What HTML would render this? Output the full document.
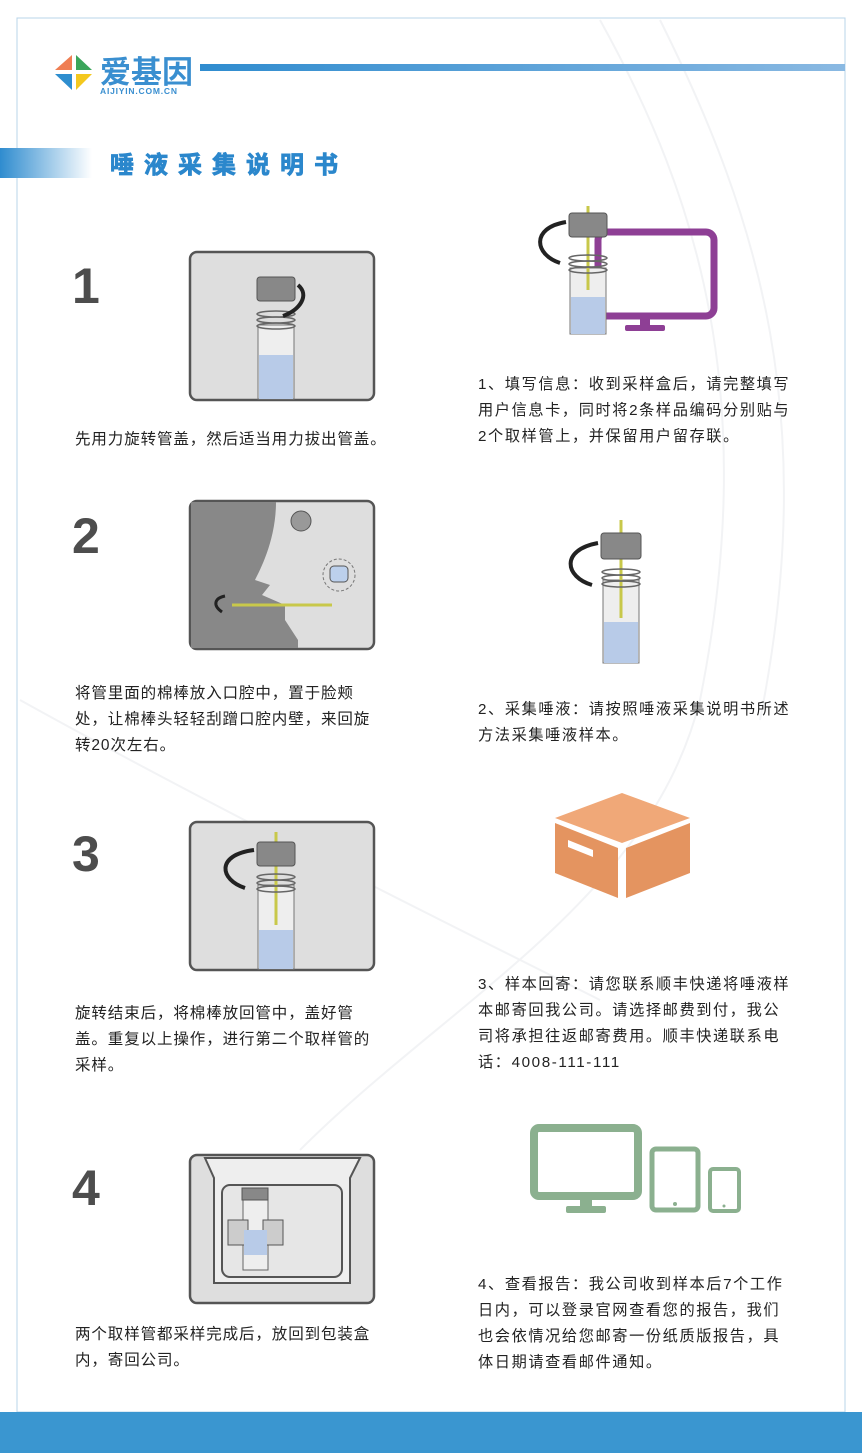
<!DOCTYPE html>
<html><head><meta charset="utf-8"><style>
html,body{margin:0;padding:0;background:#fff}
svg{display:block}
text{font-family:"Liberation Sans","Noto Sans CJK SC",sans-serif}
</style></head><body>
<svg width="862" height="1453" viewBox="0 0 862 1453" xmlns="http://www.w3.org/2000/svg">
<defs>
<linearGradient id="lg" x1="0" x2="1"><stop offset="0" stop-color="#2f8ccf"/><stop offset="1" stop-color="#8ab9e2"/></linearGradient>
<linearGradient id="tg" x1="0" x2="1"><stop offset="0" stop-color="#2f8ccf"/><stop offset="1" stop-color="#ffffff"/></linearGradient>
</defs>
<rect x="17" y="18" width="828" height="1394" fill="none" stroke="#b8d4ea" stroke-width="1"/>
<g fill="none" stroke="#f2f3f5" stroke-width="2">
<path d="M600 20 C700 200 760 400 700 700 C650 900 450 1000 300 1150"/>
<path d="M660 20 C760 220 820 420 760 720"/>
<path d="M20 700 C200 800 400 900 600 1000"/>
</g>
<rect x="0" y="1412" width="862" height="41" fill="#3a96d0"/>
<polygon points="55,70 72,70 72,55" fill="#ef7e53"/>
<polygon points="76,55 76,70 92,70" fill="#3aa55a"/>
<polygon points="55,74 72,74 72,90" fill="#2e8ecf"/>
<polygon points="76,74 92,74 76,90" fill="#f4c81e"/>
<text x="100" y="83" font-size="31" font-weight="bold" fill="#3a8fd0">爱基因</text>
<text x="100" y="94" font-size="8.5" font-weight="bold" fill="#3a8fd0" letter-spacing="0.8">AIJIYIN.COM.CN</text>
<rect x="200" y="64" width="645" height="7" fill="url(#lg)"/>
<rect x="0" y="148" width="92" height="30" fill="url(#tg)"/>
<text x="110" y="173" font-size="24" font-weight="bold" fill="#2b87cc" letter-spacing="10" stroke="#2b87cc" stroke-width="0.8">唾液采集说明书</text>
<g font-size="50" font-weight="bold" fill="#4d4d4d">
<text x="72" y="303">1</text><text x="72" y="553">2</text><text x="72" y="871">3</text><text x="72" y="1205">4</text>
</g>
<g fill="#dedede" stroke="#555" stroke-width="2.5">
<rect x="190" y="252" width="184" height="148" rx="7"/>
<rect x="190" y="501" width="184" height="148" rx="7"/>
<rect x="190" y="822" width="184" height="148" rx="7"/>
<rect x="190" y="1155" width="184" height="148" rx="7"/>
</g>
<rect x="258" y="325" width="36" height="74" fill="#eee" stroke="#777"/>
<rect x="259" y="355" width="34" height="44" fill="#b8cbe8"/>
<g fill="none" stroke="#666" stroke-width="1.5"><ellipse cx="276" cy="314" rx="19" ry="3"/><ellipse cx="276" cy="320" rx="19" ry="3"/><ellipse cx="276" cy="326" rx="19" ry="3"/></g>
<rect x="257" y="277" width="38" height="24" rx="3" fill="#888" stroke="#555"/>
<path d="M298 285 C310 295 300 310 283 316" fill="none" stroke="#222" stroke-width="4"/>
<path d="M191 502 H276 C276 540 260 570 255 580 L270 585 L262 595 L285 605 L285 620 L298 640 L298 648 H191 Z" fill="#888"/>
<circle cx="301" cy="521" r="10" fill="#999" stroke="#555"/>
<circle cx="339" cy="575" r="16" fill="none" stroke="#777" stroke-dasharray="3,2"/>
<rect x="330" y="566" width="18" height="16" rx="4" fill="#bcd0ec" stroke="#555"/>
<line x1="232" y1="605" x2="332" y2="605" stroke="#c8c84a" stroke-width="3"/>
<path d="M222 612 C212 605 215 598 225 596" fill="none" stroke="#222" stroke-width="3"/>
<rect x="258" y="885" width="36" height="84" fill="#eee" stroke="#777"/>
<rect x="259" y="930" width="34" height="39" fill="#b8cbe8"/>
<line x1="276" y1="832" x2="276" y2="925" stroke="#c8c84a" stroke-width="3"/>
<g fill="none" stroke="#666" stroke-width="1.5"><ellipse cx="276" cy="877" rx="19" ry="3"/><ellipse cx="276" cy="883" rx="19" ry="3"/><ellipse cx="276" cy="889" rx="19" ry="3"/></g>
<rect x="257" y="842" width="38" height="24" rx="3" fill="#888" stroke="#555"/>
<path d="M254 850 C215 855 220 880 245 888" fill="none" stroke="#222" stroke-width="4"/>
<path d="M205 1158 H360 L350 1178 V1283 H214 V1178 Z" fill="#eee" stroke="#555" stroke-width="2"/>
<rect x="222" y="1185" width="120" height="92" rx="8" fill="#e6e6e6" stroke="#555" stroke-width="2"/>
<rect x="243" y="1195" width="25" height="75" fill="#eee" stroke="#666"/>
<rect x="228" y="1220" width="20" height="25" fill="#ccc" stroke="#555"/>
<rect x="263" y="1220" width="20" height="25" fill="#ccc" stroke="#555"/>
<rect x="244" y="1230" width="23" height="25" fill="#b8cbe8"/>
<rect x="242" y="1188" width="26" height="12" fill="#888" stroke="#555"/>
<g font-size="15.5" fill="#222" letter-spacing="0.9">
<text x="75" y="444">先用力旋转管盖，然后适当用力拔出管盖。</text>
<text x="75" y="698">将管里面的棉棒放入口腔中，置于脸颊</text>
<text x="75" y="724">处，让棉棒头轻轻刮蹭口腔内壁，来回旋</text>
<text x="75" y="750">转20次左右。</text>
<text x="75" y="1018">旋转结束后，将棉棒放回管中，盖好管</text>
<text x="75" y="1044">盖。重复以上操作，进行第二个取样管的</text>
<text x="75" y="1070">采样。</text>
<text x="75" y="1339">两个取样管都采样完成后，放回到包装盒</text>
<text x="75" y="1365">内，寄回公司。</text>
</g>
<rect x="598" y="232" width="116" height="84" rx="8" fill="none" stroke="#8e3f95" stroke-width="7"/>
<rect x="640" y="316" width="10" height="10" fill="#8e3f95"/>
<rect x="625" y="325" width="40" height="6" rx="2" fill="#8e3f95"/>
<rect x="570" y="268" width="36" height="66" fill="#eee" stroke="#777"/>
<rect x="571" y="297" width="34" height="37" fill="#b8cbe8"/>
<line x1="588" y1="206" x2="588" y2="290" stroke="#c8c84a" stroke-width="3"/>
<g fill="none" stroke="#666" stroke-width="1.5"><ellipse cx="588" cy="258" rx="19" ry="3"/><ellipse cx="588" cy="264" rx="19" ry="3"/><ellipse cx="588" cy="270" rx="19" ry="3"/></g>
<rect x="569" y="213" width="38" height="24" rx="3" fill="#888" stroke="#555"/>
<path d="M566 222 C530 228 535 255 560 263" fill="none" stroke="#222" stroke-width="4"/>
<rect x="603" y="580" width="36" height="83" fill="#eee" stroke="#777"/>
<rect x="604" y="622" width="34" height="41" fill="#b8cbe8"/>
<line x1="621" y1="520" x2="621" y2="618" stroke="#c8c84a" stroke-width="3"/>
<g fill="none" stroke="#666" stroke-width="1.5"><ellipse cx="621" cy="572" rx="19" ry="3"/><ellipse cx="621" cy="578" rx="19" ry="3"/><ellipse cx="621" cy="584" rx="19" ry="3"/></g>
<rect x="601" y="533" width="40" height="26" rx="3" fill="#888" stroke="#555"/>
<path d="M598 543 C560 550 565 577 592 585" fill="none" stroke="#222" stroke-width="4"/>
<polygon points="622,793 690,818 622,843 555,818" fill="#f0a878"/>
<polygon points="555,823 618,848 618,898 555,873" fill="#e49460"/>
<polygon points="626,848 690,823 690,873 626,898" fill="#e49460"/>
<polygon points="568,840 593,850 593,857 568,847" fill="#fff"/>
<rect x="534" y="1128" width="104" height="68" rx="5" fill="none" stroke="#8bb08f" stroke-width="8"/>
<rect x="580" y="1200" width="12" height="8" fill="#8bb08f"/>
<rect x="566" y="1206" width="40" height="7" rx="2" fill="#8bb08f"/>
<rect x="652" y="1149" width="46" height="61" rx="4" fill="none" stroke="#8bb08f" stroke-width="5"/>
<circle cx="675" cy="1204" r="2" fill="#8bb08f"/>
<rect x="710" y="1169" width="29" height="42" rx="3" fill="none" stroke="#8bb08f" stroke-width="4"/>
<circle cx="724" cy="1206" r="1.5" fill="#8bb08f"/>
<g font-size="15.2" fill="#222" letter-spacing="1.6">
<text x="478" y="389">1、填写信息：收到采样盒后，请完整填写</text>
<text x="478" y="415">用户信息卡，同时将2条样品编码分别贴与</text>
<text x="478" y="441">2个取样管上，并保留用户留存联。</text>
<text x="478" y="714">2、采集唾液：请按照唾液采集说明书所述</text>
<text x="478" y="740">方法采集唾液样本。</text>
<text x="478" y="989">3、样本回寄：请您联系顺丰快递将唾液样</text>
<text x="478" y="1015">本邮寄回我公司。请选择邮费到付，我公</text>
<text x="478" y="1041">司将承担往返邮寄费用。顺丰快递联系电</text>
<text x="478" y="1067">话：4008-111-111</text>
<text x="478" y="1289">4、查看报告：我公司收到样本后7个工作</text>
<text x="478" y="1315">日内，可以登录官网查看您的报告，我们</text>
<text x="478" y="1341">也会依情况给您邮寄一份纸质版报告，具</text>
<text x="478" y="1367">体日期请查看邮件通知。</text>
</g>
</svg>
</body></html>
